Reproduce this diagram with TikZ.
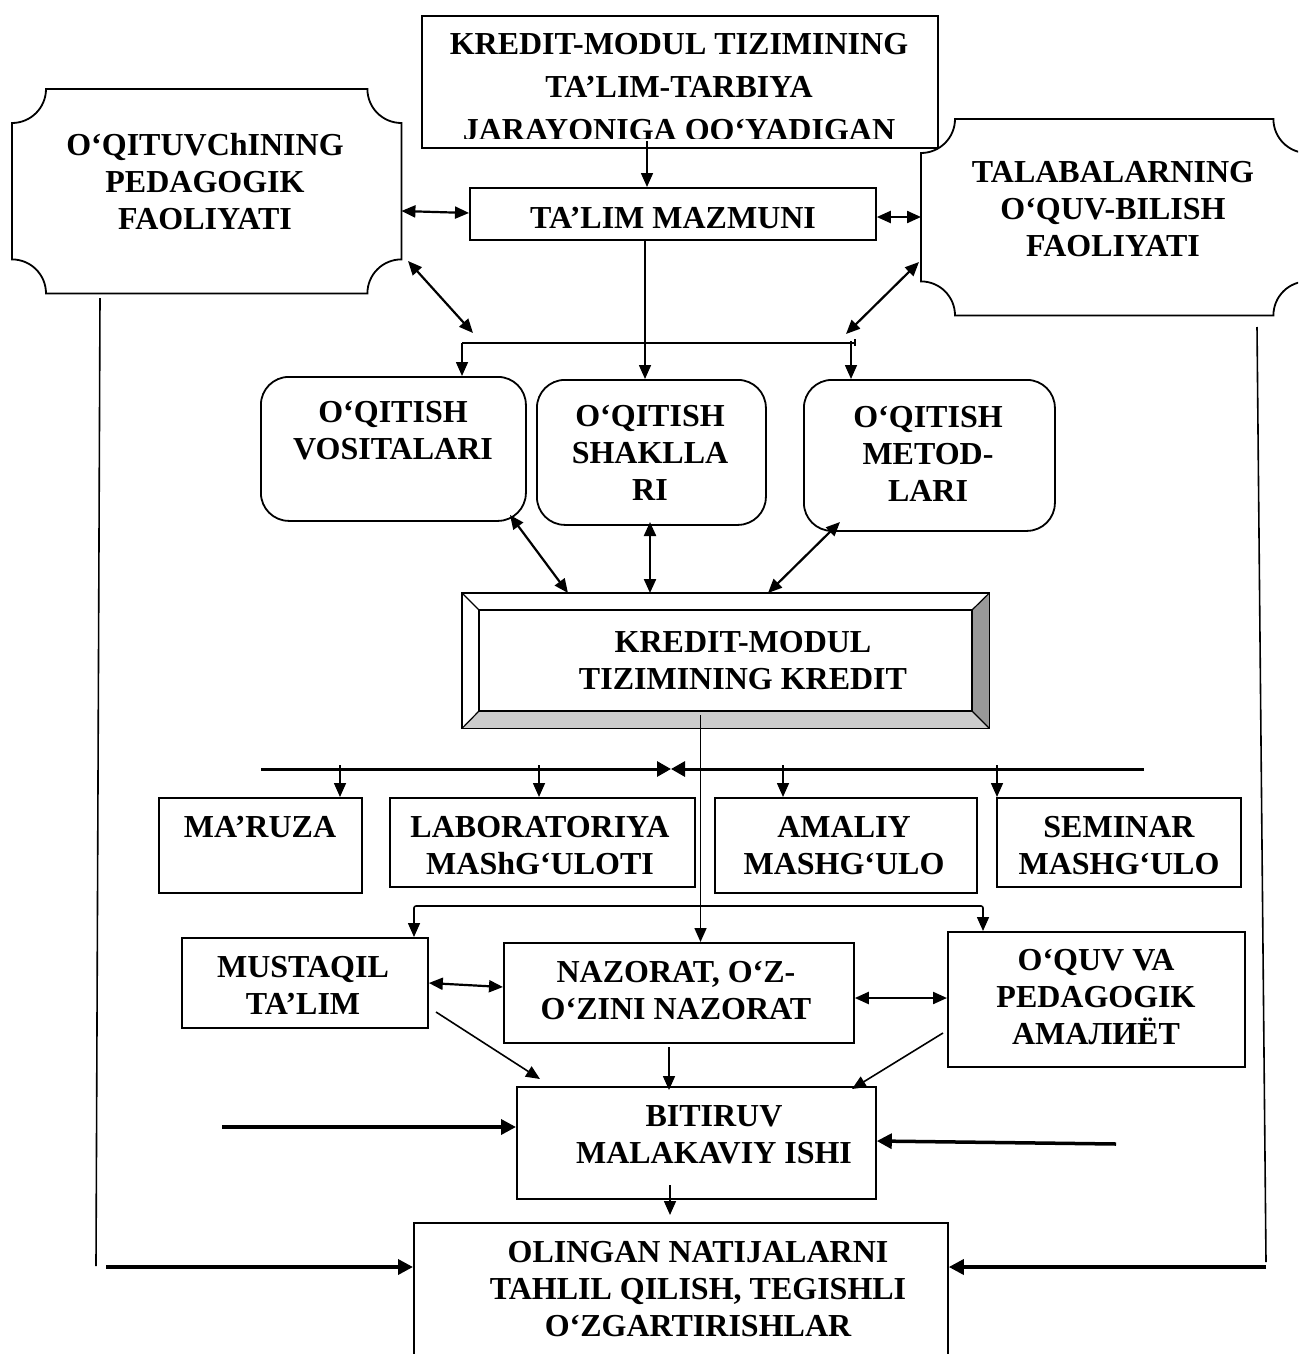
\documentclass[tikz,border=0pt]{standalone}
\usepackage{fontspec}
\setmainfont{Liberation Serif}
\usetikzlibrary{arrows.meta,calc}
\newcommand\tl[1]{\begin{tabular}[t]{@{}c@{}}#1\end{tabular}}
\newcommand\plaque[1]{%
\draw[line width=1.8pt] ([xshift=34pt]#1.north west) -- ([xshift=-34pt]#1.north east)
 .. controls ([xshift=-34pt,yshift=-18.8pt]#1.north east) and ([xshift=-18.8pt,yshift=-34pt]#1.north east) .. ([yshift=-34pt]#1.north east)
 -- ([yshift=34pt]#1.south east)
 .. controls ([xshift=-18.8pt,yshift=34pt]#1.south east) and ([xshift=-34pt,yshift=18.8pt]#1.south east) .. ([xshift=-34pt]#1.south east)
 -- ([xshift=34pt]#1.south west)
 .. controls ([xshift=34pt,yshift=18.8pt]#1.south west) and ([xshift=18.8pt,yshift=34pt]#1.south west) .. ([yshift=34pt]#1.south west)
 -- ([yshift=-34pt]#1.north west)
 .. controls ([xshift=18.8pt,yshift=-34pt]#1.north west) and ([xshift=34pt,yshift=-18.8pt]#1.north west) .. cycle;}
\begin{document}
\begin{tikzpicture}[x=1pt,y=-1pt,
  box/.style={draw, line width=1.8pt, inner sep=0pt, anchor=north west},
  rbox/.style={box, rounded corners=28pt},
  ghost/.style={inner sep=0pt, anchor=north west},
  tx/.style={inner sep=0pt, anchor=base, font=\fontsize{32}{37}\selectfont\bfseries},
  >={Triangle[length=14pt,width=12pt]},
  ln/.style={line width=1.6pt},
  ln2/.style={line width=2.2pt},
  bus/.style={line width=3pt,-{Triangle[length=14pt,width=15pt]}},
  thk/.style={line width=3.5pt,-{Triangle[length=15pt,width=15pt]}}]
\useasboundingbox (0,0) rectangle (1298,1354);
\clip (0,0) rectangle (1298,1354);
\fill[white] (0,0) rectangle (1298,1354);

% ---- boxes ----
\node[box, minimum width=516pt, minimum height=132pt] (top) at (421,15) {};
\begin{scope}
\clip (421,22) rectangle (937,138);
\node[tx, font=\fontsize{32}{43}\selectfont\bfseries] (top-t) at (679,55) {\tl{KREDIT-MODUL TIZIMINING\\TA’LIM-TARBIYA\\JARAYONIGA QO‘YADIGAN}};
\end{scope}

\node[ghost, minimum width=389pt, minimum height=204pt] (lp) at (12,89) {};
\plaque{lp}
\node[tx] (lp-t) at (205,155) {\tl{O‘QITUVChINING\\PEDAGOGIK\\FAOLIYATI}};

\node[ghost, minimum width=386pt, minimum height=196pt] (rp) at (921,119) {};
\plaque{rp}
\node[tx] (rp-t) at (1113,182) {\tl{TALABALARNING\\O‘QUV-BILISH\\FAOLIYATI}};

\node[box, minimum width=406pt, minimum height=52pt] (talim) at (469,187) {};
\node[tx] (talim-t) at (673,228) {TA’LIM MAZMUNI};

\node[rbox, minimum width=265pt, minimum height=144pt] (vos) at (260,376) {};
\node[tx] (vos-t) at (393,422) {\tl{O‘QITISH\\VOSITALARI}};
\node[rbox, minimum width=229pt, minimum height=145pt] (shakl) at (536,379) {};
\node[tx] (shakl-t) at (650,426) {\tl{O‘QITISH\\SHAKLLA\\RI}};
\node[rbox, minimum width=251pt, minimum height=151pt] (met) at (803,379) {};
\node[tx] (met-t) at (928,427) {\tl{O‘QITISH\\METOD-\\LARI}};

% bevel box
\node[ghost, minimum width=527pt, minimum height=135pt] (kr) at (462,593) {};
\fill[white] (462,593) -- (989,593) -- (972,610) -- (479,610) -- cycle;
\fill[white] (462,593) -- (479,610) -- (479,711) -- (462,728) -- cycle;
\fill[black!40] (989,593) -- (989,728) -- (972,711) -- (972,610) -- cycle;
\fill[black!20] (462,728) -- (989,728) -- (972,711) -- (479,711) -- cycle;
\draw[line width=1.8pt] (kr.north west) rectangle (kr.south east);
\draw[line width=1.6pt] (479,610) rectangle (972,711);
\draw[line width=1.2pt] (kr.north west) -- (479,610) (kr.north east) -- (972,610)
  (kr.south west) -- (479,711) (kr.south east) -- (972,711);
\node[tx] (kr-t) at (743,652) {\tl{KREDIT-MODUL\\TIZIMINING KREDIT}};

\node[box, minimum width=203pt, minimum height=95pt] (mar) at (158,797) {};
\node[tx] (mar-t) at (260,837) {MA’RUZA};
\node[box, minimum width=305pt, minimum height=89pt] (lab) at (389,797) {};
\node[tx] (lab-t) at (540,837) {\tl{LABORATORIYA\\MAShG‘ULOTI}};
\node[box, minimum width=262pt, minimum height=95pt] (ama) at (714,797) {};
\node[tx] (ama-t) at (844,837) {\tl{AMALIY\\MASHG‘ULO}};
\node[box, minimum width=244pt, minimum height=89pt] (sem) at (996,797) {};
\node[tx] (sem-t) at (1119,837) {\tl{SEMINAR\\MASHG‘ULO}};

\node[box, minimum width=246pt, minimum height=90pt] (mus) at (181,937) {};
\node[tx] (mus-t) at (303,977) {\tl{MUSTAQIL\\TA’LIM}};
\node[box, minimum width=350pt, minimum height=100pt] (naz) at (503,942) {};
\node[tx] (naz-t) at (676,982) {\tl{NAZORAT, O‘Z-\\O‘ZINI NAZORAT}};
\node[box, minimum width=297pt, minimum height=135pt] (oquv) at (947,931) {};
\node[tx] (oquv-t) at (1096,970) {\tl{O‘QUV VA\\PEDAGOGIK\\АМАЛИЁТ}};

\node[box, minimum width=359pt, minimum height=112pt] (bit) at (516,1086) {};
\node[tx] (bit-t) at (714,1126) {\tl{BITIRUV\\MALAKAVIY ISHI}};

\node[box, minimum width=534pt, minimum height=170pt] (res) at (413,1222) {};
\node[tx] (res-t) at (698,1262) {\tl{OLINGAN NATIJALARNI\\TAHLIL QILISH, TEGISHLI\\O‘ZGARTIRISHLAR}};

% ---- connectors ----
\coordinate (c1) at (647,141);
\draw[ln,->] (c1) -- (c1 |- talim.north);
\draw[ln2,<->] (lp.east |- 0,211) -- (talim.west |- 0,213);
\draw[ln2,<->] (talim.east |- 0,217) -- (rp.west |- 0,217);
\coordinate (c4a) at (408,261); \coordinate (c4b) at (473,333);
\draw[ln2,<->] (c4a) -- (c4b);
\coordinate (c5a) at (919,262); \coordinate (c5b) at (846,334);
\draw[ln2,<->] (c5a) -- (c5b);
\draw[ln,->] (talim.south -| 645,0) -- (shakl.north -| 645,0);
\coordinate (b1) at (462,343); \coordinate (b2) at (856,343);
\draw[ln] (b1) -- (b2);
\draw[ln] (855,339) -- (855,346);
\draw[ln,->] (b1) -- (vos.north -| b1);
\coordinate (b3) at (851,341);
\draw[ln,->] (b3) -- (met.north -| b3);

\draw[ln2,<->] (510,515) -- (kr.north -| 568,0);
\draw[ln2,<->] (650,522) -- (kr.north -| 650,0);
\draw[ln2,<->] (840,522) -- (kr.north -| 768,0);

\coordinate (c11) at (700.5,715);
\draw[ln,->] (c11) -- (naz.north -| c11);
\coordinate (busL) at (261,769); \coordinate (busR) at (1144,769); \coordinate (bow) at (671,769);
\draw[bus] (busL) -- (bow);
\draw[bus] (busR) -- (bow);
\foreach \x/\n in {340/mar,539/lab,783/ama,997/sem}
  \draw[ln,->] (\x,765) -- (\n.north -| \x,0);

\draw[ln,<->,rounded corners=2pt] (mus.north -| 414,0) -- (414,906) -- (983,906) -- (oquv.north -| 983,0);
\draw[ln2,<->] (mus.east |- 0,983) -- (naz.west |- 0,987);
\draw[ln2,<->] (naz.east |- 0,998) -- (oquv.west |- 0,998);
\draw[ln,->] (436,1012) -- (540,1079);
\draw[ln,->] (669,1047) -- (669,1090);
\draw[ln,->] (943,1033) -- (852,1089);
\draw[thk] (222,1127) -- (bit.west |- 0,1127);
\draw[thk] (1116,1144) -- (bit.east |- 0,1141);
\draw[ln,->] (670,1185) -- (670,1215);

\coordinate (l1) at (100,298); \coordinate (l2) at (96,1266);
\draw[ln] (l1) -- (l2);
\draw[thk] (106,1267) -- (res.west |- 0,1267);
\coordinate (r1) at (1257,327); \coordinate (r2) at (1266,1262);
\draw[ln] (r1) -- (r2);
\draw[thk] (1266,1267) -- (res.east |- 0,1267);
\end{tikzpicture}
\end{document}
